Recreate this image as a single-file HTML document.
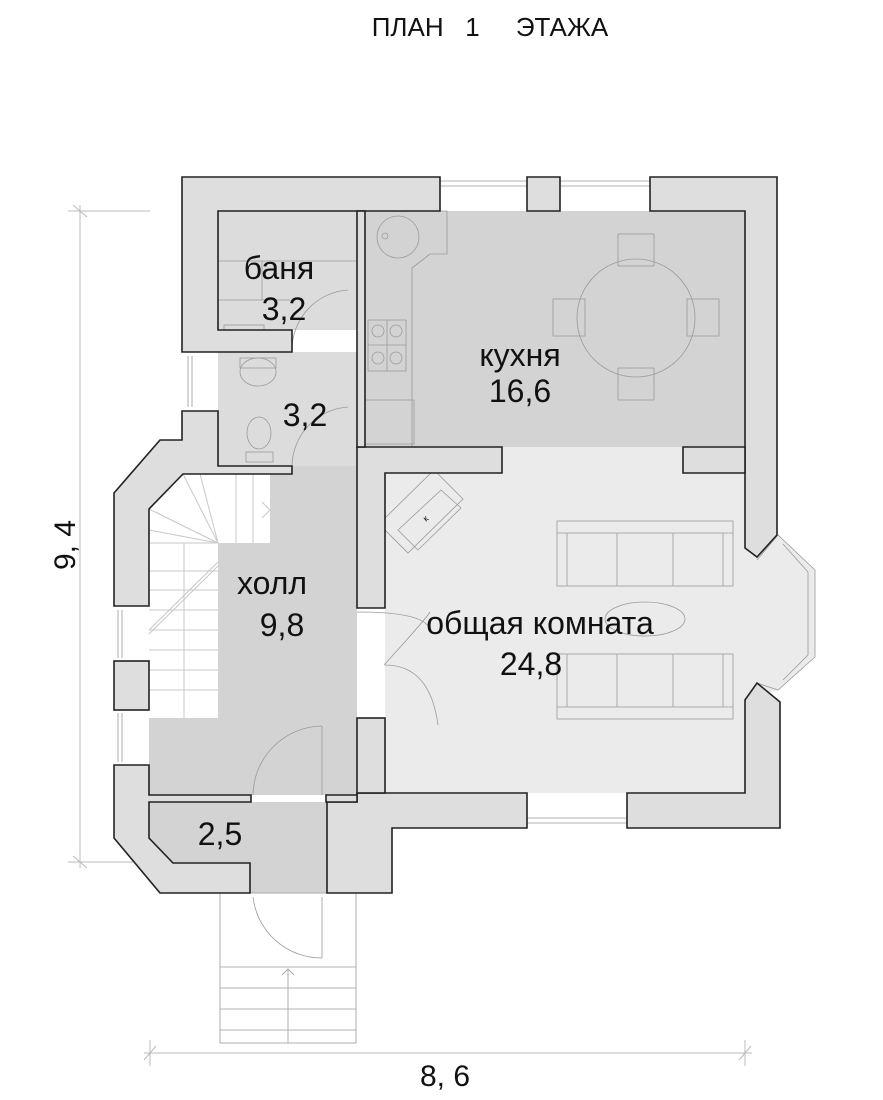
<!DOCTYPE html>
<html><head><meta charset="utf-8"><style>
html,body{margin:0;padding:0;background:#fff;}
svg{display:block;}
text{font-family:"Liberation Sans",sans-serif;fill:#111;}
</style></head><body>
<svg width="883" height="1100" viewBox="0 0 883 1100" xmlns="http://www.w3.org/2000/svg">
<text x="490" y="36" font-size="26" text-anchor="middle" xml:space="preserve">ПЛАН   1     ЭТАЖА</text>

<g stroke="#bbb" stroke-width="1" fill="none">
<line x1="80" y1="205" x2="80" y2="868"/>
<line x1="68" y1="211" x2="150" y2="211"/>
<line x1="68" y1="862" x2="150" y2="862"/>
<line x1="73" y1="205" x2="87" y2="217"/>
<line x1="73" y1="856" x2="87" y2="868"/>
<line x1="144" y1="1053" x2="752" y2="1053"/>
<line x1="150" y1="1040" x2="150" y2="1066"/>
<line x1="745" y1="1040" x2="745" y2="1066"/>
<line x1="144" y1="1060" x2="156" y2="1046"/>
<line x1="739" y1="1060" x2="751" y2="1046"/>
</g>
<text x="0" y="0" font-size="30" text-anchor="middle" transform="translate(75,545) rotate(-90)">9, 4</text>
<text x="445" y="1086" font-size="30" text-anchor="middle">8, 6</text>

<rect x="218" y="211" width="139" height="119" fill="#dcdcdc"/>
<rect x="218" y="352" width="139" height="114" fill="#dcdcdc"/>
<rect x="365" y="211" width="380" height="236" fill="#d3d3d3"/>
<rect x="385" y="447" width="360" height="346" fill="#ebebeb"/>
<polygon points="745,548 778,535 815,570 815,657 778,690 745,700" fill="#ebebeb"/>
<rect x="149" y="466" width="208" height="329" fill="#d3d3d3"/>
<polygon points="149,802 357,802 357,893 250,893 250,863 173,863 149,838" fill="#d3d3d3"/>
<polygon points="183,474 270,474 270,543 218,543 218,718 149,718 149,509" fill="#fff"/>
<g stroke="#c8c8c8" stroke-width="1" fill="none">
<line x1="149" y1="543" x2="218" y2="543"/>
<line x1="149" y1="571" x2="218" y2="571"/>
<line x1="149" y1="590" x2="218" y2="590"/>
<line x1="149" y1="610" x2="218" y2="610"/>
<line x1="149" y1="630" x2="218" y2="630"/>
<line x1="149" y1="650" x2="218" y2="650"/>
<line x1="149" y1="670" x2="218" y2="670"/>
<line x1="149" y1="690" x2="218" y2="690"/>
<line x1="184" y1="543" x2="184" y2="718"/>
<line x1="218" y1="543" x2="183" y2="474"/>
<line x1="218" y1="543" x2="149" y2="509"/>
<line x1="218" y1="543" x2="149" y2="530"/>
<line x1="218" y1="543" x2="200" y2="474"/>
<line x1="236" y1="474" x2="236" y2="543"/>
<line x1="253" y1="474" x2="253" y2="543"/>
<line x1="149" y1="630" x2="218" y2="562"/>
<line x1="149" y1="634" x2="218" y2="566"/>
<polyline points="262,502 270,510 262,518"/>
</g>

<g stroke="#9a9a9a" stroke-width="0.8" fill="none">
<polyline points="365,211 447,211 447,254 430,254 412,268 412,447"/>
<circle cx="398" cy="237" r="21"/>
<circle cx="385" cy="236" r="3"/>
<rect x="368" y="320" width="38" height="51"/>
<line x1="387" y1="320" x2="387" y2="371"/><line x1="368" y1="345" x2="406" y2="345"/>
<circle cx="378" cy="331" r="6"/><circle cx="396" cy="331" r="6"/>
<circle cx="378" cy="358" r="6"/><circle cx="396" cy="358" r="6"/>
<rect x="365" y="400" width="49" height="44"/>
<circle cx="636" cy="318" r="59"/>
<rect x="618" y="234" width="36" height="32"/>
<rect x="618" y="368" width="36" height="32"/>
<rect x="553" y="299" width="32" height="37"/>
<rect x="687" y="299" width="32" height="37"/>
<rect x="557" y="521" width="176" height="65"/>
<line x1="567" y1="533" x2="567" y2="586"/><line x1="617" y1="533" x2="617" y2="586"/>
<line x1="673" y1="533" x2="673" y2="586"/><line x1="723" y1="533" x2="723" y2="586"/>
<line x1="557" y1="533" x2="733" y2="533"/>
<rect x="557" y="654" width="176" height="65"/>
<line x1="567" y1="654" x2="567" y2="707"/><line x1="617" y1="654" x2="617" y2="707"/>
<line x1="673" y1="654" x2="673" y2="707"/><line x1="723" y1="654" x2="723" y2="707"/>
<line x1="557" y1="707" x2="733" y2="707"/>
<ellipse cx="645" cy="619" rx="40" ry="17"/>
<polygon points="379,524 434,470 463,499 408,553"/>
<polygon points="398,530 441,490 461,508 418,550"/>
<path d="M357,612 Q430,612 430,632 M385,665 Q430,665 438,725"/>
<path d="M384,665 Q425,620 430,612"/>
<path d="M348,290 A60,60 0 0 0 292,350"/>
<path d="M348,407 A60,60 0 0 0 292,466"/>
<path d="M322,726 A70,70 0 0 0 253,795"/>
<line x1="322" y1="726" x2="322" y2="795"/>
<path d="M253,897 A69,69 0 0 0 322,958"/>
<line x1="322" y1="897" x2="322" y2="958"/>
<line x1="218" y1="261" x2="357" y2="261"/>
<line x1="218" y1="300" x2="290" y2="300"/>
<line x1="262" y1="261" x2="262" y2="300"/>
<rect x="224" y="325" width="40" height="18"/>
<ellipse cx="258" cy="372" rx="18" ry="14"/>
<rect x="240" y="358" width="36" height="10"/>
<ellipse cx="259" cy="433" rx="12" ry="16"/>
<rect x="246" y="452" width="27" height="10"/>
<rect x="220" y="893" width="136" height="150"/>
<line x1="220" y1="967" x2="356" y2="967"/>
<line x1="220" y1="988" x2="356" y2="988"/>
<line x1="220" y1="1009" x2="356" y2="1009"/>
<line x1="220" y1="1030" x2="356" y2="1030"/>
<line x1="288" y1="969" x2="288" y2="1043"/>
<polyline points="282,975 288,969 294,975"/>
<line x1="440" y1="181" x2="527" y2="181"/><line x1="440" y1="186" x2="527" y2="186"/>
<line x1="560" y1="181" x2="650" y2="181"/><line x1="560" y1="186" x2="650" y2="186"/>
<line x1="527" y1="818" x2="627" y2="818"/><line x1="527" y1="823" x2="627" y2="823"/>
<line x1="188" y1="356" x2="188" y2="407"/><line x1="192" y1="356" x2="192" y2="407"/>
<line x1="118" y1="610" x2="118" y2="658"/><line x1="122" y1="610" x2="122" y2="658"/>
<line x1="118" y1="713" x2="118" y2="762"/><line x1="122" y1="713" x2="122" y2="762"/>
<polyline points="757,560 778,535 815,570 815,657 778,690 757,683"/>
<polyline points="783,544 808,572 808,655 783,680"/>
</g>

<g fill="#dedede" stroke="#222" stroke-width="1.6" stroke-linejoin="miter">
<polygon points="182,177 440,177 440,211 218,211 218,330 292,330 292,352 182,352"/>
<polygon points="527,177 560,177 560,211 527,211"/>
<polygon points="650,177 777,177 777,535 757,557 745,548 745,211 650,211"/>
<polygon points="745,700 757,683 780,702 780,828 627,828 627,793 745,793"/>
<polygon points="357,793 527,793 527,828 392,828 392,893 327,893 327,802 357,802"/>
<polygon points="357,447 502,447 502,473 385,473 385,608 357,608"/>
<polygon points="683,447 745,447 745,473 683,473"/>
<rect x="357" y="718" width="28" height="75"/>
<rect x="357" y="211" width="8" height="236"/>
<polygon points="292,466 218,466 218,411 182,411 182,440 160,440 114,493 114,606 149,606 149,509 183,474 292,474"/>
<rect x="114" y="661" width="35" height="49"/>
<polygon points="114,765 149,765 149,795 251,795 251,802 149,802 149,838 173,863 250,863 250,893 160,893 114,838"/>
<polygon points="326,795 357,795 357,802 326,802"/>
</g>

<g font-size="32" text-anchor="middle">
<text x="279" y="279">баня</text>
<text x="284" y="320">3,2</text>
<text x="305" y="426">3,2</text>
<text x="520" y="366">кухня</text>
<text x="520" y="402">16,6</text>
<text x="272" y="594">холл</text>
<text x="282" y="636">9,8</text>
<text x="540" y="634">общая комната</text>
<text x="531" y="675">24,8</text>
<text x="220" y="845">2,5</text>
</g>
<text x="426" y="522" font-size="9" transform="rotate(-40 426 522)">к</text>
</svg>
</body></html>
